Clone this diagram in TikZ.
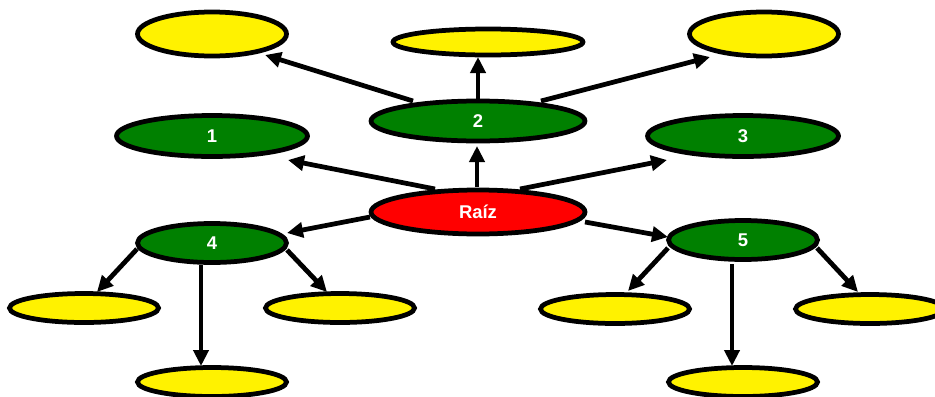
\documentclass[tikz,border=0pt]{standalone}
\usepackage{fontspec}
\setmainfont{Liberation Sans}
\usetikzlibrary{shapes.geometric, arrows.meta}

\definecolor{verde}{RGB}{0,128,0}

\tikzset{
	elipse/.style={ellipse, draw=black, line width=0.095cm, inner sep=0pt,
		font=\fontsize{10.5}{12}\selectfont\bfseries, text=white},
	hoja/.style={elipse, fill=yellow, minimum width=2.98cm, minimum height=0.58cm},
	rama/.style={elipse, fill=verde, minimum width=2.98cm, minimum height=0.78cm},
	flecha/.style={line width=0.095cm, -{Triangle[length=0.32cm, width=0.3cm]}}
}

\begin{document}
\begin{tikzpicture}[x=0.02cm, y=-0.02cm]
			\useasboundingbox (0,0) rectangle (935,396);

			% raiz
			\node[elipse, fill=red, minimum width=4.28cm, minimum height=0.88cm] (raiz) at (478,212) {Raíz};

			% primer nivel
			\begin{scope}
				\node[rama, minimum width=3.82cm, minimum height=0.82cm] (n1) at (212,136) {1};
				\node[rama, minimum width=4.28cm, minimum height=0.80cm] (n2) at (478,121) {2};
				\node[rama, minimum width=3.82cm, minimum height=0.82cm] (n3) at (743,136) {3};
				\node[rama] (n4) at (212,243) {4};
				\node[rama] (n5) at (743,240) {5};
			\end{scope}

			% hojas
			\begin{scope}
				\node[hoja, minimum height=0.88cm] (h21) at (212,34) {};
				\node[hoja, minimum width=3.80cm, minimum height=0.52cm] (h22) at (488,42) {};
				\node[hoja, minimum height=0.88cm] (h23) at (764,34) {};

				\node[hoja] (h41) at (84,308) {};
				\node[hoja] (h42) at (340,308) {};
				\node[hoja] (h43) at (212,382) {};

				\node[hoja] (h51) at (615,309) {};
				\node[hoja] (h52) at (870,309) {};
				\node[hoja] (h53) at (743,382) {};
			\end{scope}

			% flechas: desde/desplazamiento/hasta/desplazamiento
			\begin{scope}[flecha]
				\foreach \a/\sa/\b/\sb in {
						raiz/{-43,-23}/n1/{76,24},
						raiz/{-1,-25}/n2/{-1,25},
						raiz/{42,-23}/n3/{-76,24},
						raiz/{-108,5}/n4/{75,-10},
						raiz/{107,10}/n5/{-75,-3},
						n2/{-65,-20}/h21/{53,21},
						n2/{0,-22}/h22/{-10,15},
						n2/{63,-20}/h23/{-54,23},
						n4/{-75,6}/h41/{13,-16},
						n4/{75,7}/h42/{-13,-16},
						n4/{-11,22}/h43/{-11,-16},
						n5/{-75,8}/h51/{13,-18},
						n5/{74,8}/h52/{-12,-17},
						n5/{-11,24}/h53/{-11,-16}}
					\draw ([shift={(\sa)}]\a.center) -- ([shift={(\sb)}]\b.center);
			\end{scope}
		\end{tikzpicture}
\end{document}
